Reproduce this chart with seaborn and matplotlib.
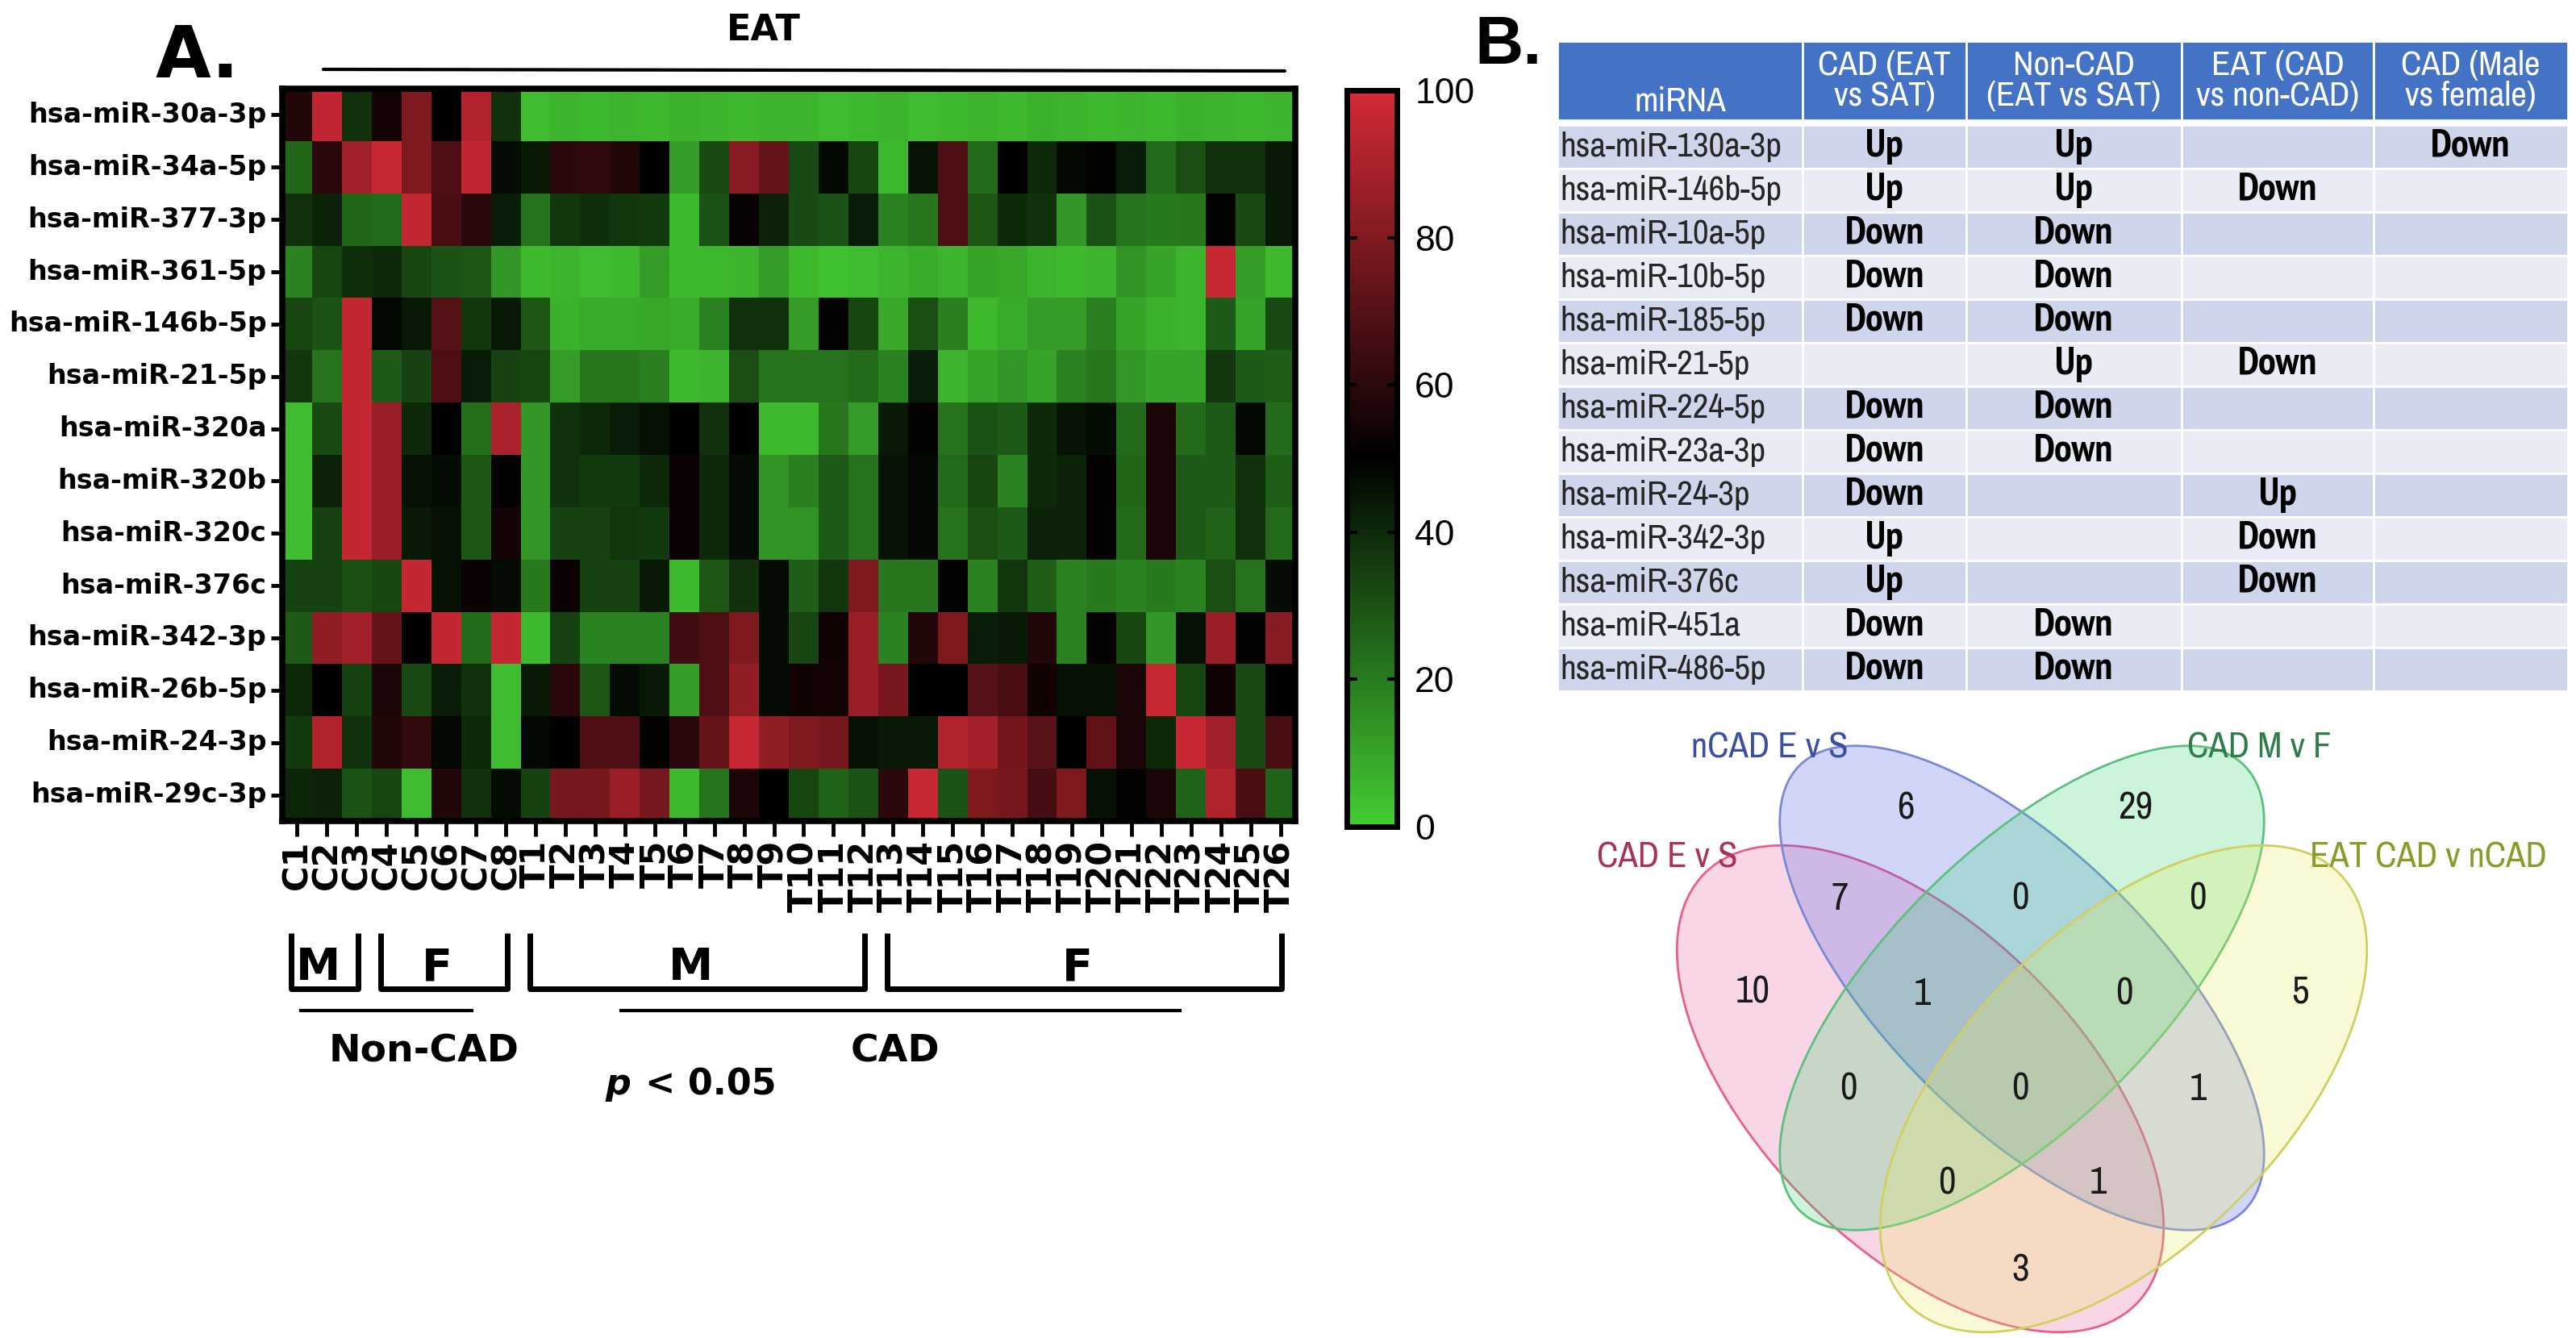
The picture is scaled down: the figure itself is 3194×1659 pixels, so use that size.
import numpy as np
import pandas as pd
import matplotlib
matplotlib.use("Agg")
import matplotlib.pyplot as plt
import matplotlib.transforms as mtransforms
from matplotlib.colors import LinearSegmentedColormap
from matplotlib.patches import Ellipse, Rectangle
from matplotlib import font_manager
from matplotlib.font_manager import FontProperties
import seaborn as sns

W, H = 3194, 1659

# ---------------- A. heatmap data ----------------
mirnas = ['hsa-miR-30a-3p', 'hsa-miR-34a-5p', 'hsa-miR-377-3p', 'hsa-miR-361-5p',
          'hsa-miR-146b-5p', 'hsa-miR-21-5p', 'hsa-miR-320a', 'hsa-miR-320b',
          'hsa-miR-320c', 'hsa-miR-376c', 'hsa-miR-342-3p', 'hsa-miR-26b-5p',
          'hsa-miR-24-3p', 'hsa-miR-29c-3p']

nc_male = ['C1', 'C2', 'C3']
nc_female = ['C4', 'C5', 'C6', 'C7', 'C8']
cad_male = ['T1', 'T2', 'T3', 'T4', 'T5', 'T6', 'T7', 'T8', 'T9', 'T10', 'T11', 'T12']
cad_female = ['T13', 'T14', 'T15', 'T16', 'T17', 'T18', 'T19', 'T20', 'T21', 'T22',
              'T23', 'T24', 'T25', 'T26']
samples = nc_male + nc_female + cad_male + cad_female

# percentile-like expression (0-100)
v_30a_3p = [58, 95, 38, 55, 80, 50, 92, 38, 4, 6, 5, 6, 5, 7, 6, 5, 6,
            6, 4, 5, 6, 4, 5, 6, 5, 7, 6, 5, 6, 5, 7, 6, 5, 6]
v_34a_5p = [25, 60, 88, 97, 80, 68, 95, 47, 44, 60, 61, 58, 50, 12, 32, 82, 74,
            32, 48, 33, 5, 45, 68, 24, 50, 40, 48, 51, 43, 24, 31, 38, 38, 44]
v_377_3p = [38, 42, 25, 24, 96, 67, 60, 43, 22, 37, 39, 37, 36, 5, 30, 52, 42,
            32, 30, 43, 18, 21, 68, 29, 40, 38, 13, 30, 22, 20, 21, 51, 32, 44]
v_361_5p = [18, 33, 39, 40, 33, 30, 29, 13, 5, 6, 4, 5, 12, 5, 5, 6, 12,
            5, 3, 4, 6, 8, 6, 10, 9, 6, 5, 6, 14, 10, 6, 97, 12, 5]
v_146b_5p = [33, 30, 96, 48, 44, 70, 37, 44, 29, 7, 8, 8, 9, 8, 18, 38, 38,
             12, 51, 33, 9, 31, 19, 5, 8, 12, 12, 19, 10, 7, 6, 28, 10, 32]
v_21_5p = [37, 22, 96, 28, 34, 68, 43, 34, 33, 12, 21, 21, 19, 5, 6, 31, 22,
           22, 22, 24, 18, 43, 6, 10, 13, 10, 18, 21, 13, 10, 10, 37, 28, 27]
v_320a = [4, 32, 96, 86, 40, 50, 23, 90, 13, 38, 40, 43, 46, 50, 38, 50, 5,
          5, 21, 12, 44, 51, 22, 30, 28, 40, 45, 47, 24, 56, 24, 28, 48, 24]
v_320b = [4, 42, 96, 86, 46, 47, 29, 51, 13, 38, 36, 36, 40, 53, 40, 47, 14,
          19, 28, 22, 45, 48, 24, 33, 18, 40, 42, 51, 25, 56, 28, 28, 38, 27]
v_320c = [4, 34, 96, 86, 44, 46, 29, 55, 13, 34, 34, 37, 36, 53, 40, 47, 14,
          14, 28, 22, 45, 48, 22, 31, 28, 42, 42, 51, 24, 56, 28, 26, 38, 24]
v_376c = [34, 34, 31, 33, 96, 46, 53, 47, 20, 53, 34, 34, 44, 5, 29, 38, 47,
          27, 37, 80, 21, 21, 51, 18, 37, 27, 18, 20, 18, 20, 18, 31, 22, 47]
v_342_3p = [28, 84, 88, 74, 50, 96, 24, 96, 5, 34, 18, 18, 18, 65, 68, 80, 47,
            33, 54, 86, 18, 58, 80, 43, 44, 58, 18, 51, 33, 13, 46, 86, 51, 82]
v_26b_5p = [40, 50, 34, 57, 32, 43, 38, 4, 44, 60, 29, 47, 44, 12, 68, 84, 47,
            54, 55, 86, 78, 50, 50, 70, 67, 54, 46, 46, 56, 97, 33, 54, 32, 50]
v_24_3p = [36, 92, 38, 58, 62, 48, 40, 4, 48, 50, 68, 68, 51, 60, 74, 97, 84,
           80, 78, 46, 44, 44, 92, 89, 77, 71, 50, 73, 56, 40, 97, 88, 32, 67]
v_29c_3p = [41, 42, 30, 33, 4, 58, 38, 47, 34, 78, 78, 86, 78, 5, 22, 57, 50,
            33, 26, 30, 60, 97, 30, 80, 78, 66, 80, 46, 51, 56, 26, 92, 67, 26]

cbar_ticks = [0, 20, 40, 60, 80, 100]

# ---------------- B. table data ----------------
tab_header = ['miRNA', 'CAD (EAT\nvs SAT)', 'Non-CAD\n(EAT vs SAT)',
              'EAT (CAD\nvs non-CAD)', 'CAD (Male\nvs female)']
tab_mirna = ['hsa-miR-130a-3p', 'hsa-miR-146b-5p', 'hsa-miR-10a-5p', 'hsa-miR-10b-5p',
             'hsa-miR-185-5p', 'hsa-miR-21-5p', 'hsa-miR-224-5p', 'hsa-miR-23a-3p',
             'hsa-miR-24-3p', 'hsa-miR-342-3p', 'hsa-miR-376c', 'hsa-miR-451a',
             'hsa-miR-486-5p']
cad_eat_sat = ['Up', 'Up', 'Down', 'Down', 'Down', '', 'Down', 'Down', 'Down',
               'Up', 'Up', 'Down', 'Down']
ncad_eat_sat = ['Up', 'Up', 'Down', 'Down', 'Down', 'Up', 'Down', 'Down', '',
                '', '', 'Down', 'Down']
eat_cad_ncad = ['', 'Down', '', '', '', 'Down', '', '', 'Up', 'Down', 'Down', '', '']
cad_male_female = ['Down', '', '', '', '', '', '', '', '', '', '', '', '']

# ---------------- Venn data ----------------
venn_sets = ['CAD E v S', 'nCAD E v S', 'CAD M v F', 'EAT CAD v nCAD']
venn_regions = ['A', 'B', 'C', 'D', 'AB', 'BC', 'CD', 'ABC', 'BCD',
                'AC', 'ABCD', 'BD', 'ACD', 'ABD', 'AD']
venn_counts = [10, 6, 29, 5, 7, 0, 0, 1, 0, 0, 0, 1, 0, 1, 3]

# ---------------- fonts ----------------
narrow_all = [f for f in font_manager.fontManager.ttflist if 'narrow' in f.name.lower()
              or 'narrow' in f.fname.lower()]
nar_reg = [f for f in narrow_all if f.weight in (400, 'normal', 'regular') and f.style == 'normal']
nar_bold = [f for f in narrow_all if f.weight in (700, 'bold') and f.style == 'normal']
if nar_reg and nar_bold:
    fp_n = FontProperties(fname=nar_reg[0].fname)
    fp_nb = FontProperties(fname=nar_bold[0].fname)
    k = 1.0
else:
    fp_n = FontProperties(family='Liberation Sans')
    fp_nb = FontProperties(family='Liberation Sans', weight='bold')
    k = 0.84


def nf(size, bold=False):
    p = (fp_nb if bold else fp_n).copy()
    p.set_size(size * k)
    return p


# ---------------- figure ----------------
fig = plt.figure(figsize=(W / 100, H / 100), dpi=100)


def fa(x0, y0, x1, y1):
    # pixel box -> figure fraction rect
    return [x0 / W, 1 - y1 / H, (x1 - x0) / W, (y1 - y0) / H]


ax = fig.add_axes(fa(350, 110, 1606, 1018))
cax = fig.add_axes(fa(1670, 112, 1732, 1025))

heat = pd.DataFrame([v_30a_3p, v_34a_5p, v_377_3p, v_361_5p, v_146b_5p, v_21_5p,
                     v_320a, v_320b, v_320c, v_376c, v_342_3p, v_26b_5p,
                     v_24_3p, v_29c_3p], index=mirnas, columns=samples)

cmap = LinearSegmentedColormap.from_list('gkr', ['#44cc33', '#000000', '#d42a36'])
sns.heatmap(heat, ax=ax, cmap=cmap, vmin=0, vmax=100, cbar_ax=cax,
            xticklabels=True, yticklabels=True, linewidths=0)

ax.set_xlabel('')
ax.set_ylabel('')
ax.set_yticklabels(mirnas, rotation=0, fontsize=24, fontweight='bold', family='DejaVu Sans')
ax.set_xticklabels(samples, rotation=90, fontsize=31, fontweight='bold', family='DejaVu Sans')
ax.tick_params(axis='y', length=10, width=3.5, pad=4)
ax.tick_params(axis='x', length=14, width=3.5, pad=3)
for sp in ax.spines.values():
    sp.set_visible(True)
    sp.set_linewidth(5.5)
    sp.set_color('black')

cbar = ax.collections[0].colorbar
cbar.set_ticks(cbar_ticks)
cbar.outline.set_linewidth(5)
cbar.outline.set_edgecolor('black')
cax.tick_params(direction='in', length=9, width=3, left=True, right=True,
                labelsize=32, pad=16)
for t in cax.get_yticklabels():
    t.set_family('Liberation Sans')

# overlay in pixel coordinates for annotations, table and Venn
ov = fig.add_axes([0, 0, 1, 1])
ov.set_xlim(0, W)
ov.set_ylim(H, 0)
ov.axis('off')
ov.patch.set_alpha(0)

ov.text(245, 71, 'A.', fontsize=64, fontweight='bold', ha='center', va='center')
ov.text(1870, 57, 'B.', fontsize=60, fontweight='bold', ha='center', va='center',
        family='Liberation Sans')

# EAT label over heatmap
ov.text(947, 37, 'EAT', fontsize=32, fontweight='bold', ha='center', va='center')
ov.plot([401, 1593], [86, 88], color='black', lw=3, solid_capstyle='round')

# M/F brackets under the sample labels
btr = mtransforms.blended_transform_factory(ax.transData, ov.transData)
for letter, grp in [('M', nc_male), ('F', nc_female), ('M', cad_male), ('F', cad_female)]:
    s = samples.index(grp[0])
    e = samples.index(grp[-1]) + 1
    x0, x1 = s + 0.3, e - 0.45
    ov.plot([x0, x0, x1, x1], [1157, 1226, 1226, 1157], transform=btr,
            color='black', lw=5, solid_joinstyle='round', solid_capstyle='butt')
    ov.text((s + e) / 2 - 0.3, 1200, letter, transform=btr, fontsize=40,
            ha='center', va='center', fontweight='semibold')

ov.plot([373, 585], [1253, 1253], color='black', lw=3)
ov.plot([770, 1463], [1253, 1253], color='black', lw=3)
ov.text(526, 1304, 'Non-CAD', fontsize=34, fontweight='bold', ha='center', va='center')
ov.text(1110, 1304, 'CAD', fontsize=34, fontweight='bold', ha='center', va='center')
ov.text(782, 1345, 'p', fontsize=32, fontweight='bold', style='italic',
        ha='right', va='center')
ov.text(800, 1345, '< 0.05', fontsize=32, fontweight='bold', ha='left', va='center')

# ---------------- B. table ----------------
col_x = [1931, 2235, 2438, 2705, 2943, 3184]
head_y0, head_y1 = 51, 149
row_y0, row_h = 155, 54
for j in range(5):
    ov.add_patch(Rectangle((col_x[j], head_y0), col_x[j + 1] - col_x[j], head_y1 - head_y0,
                           facecolor='#4472C4', edgecolor='white', lw=2))
    yy = 126 if j == 0 else 100
    ov.text((col_x[j] + col_x[j + 1]) / 2, yy, tab_header[j], color='white',
            fontproperties=nf(31), ha='center', va='center', linespacing=1.0)

tab_vals = [cad_eat_sat, ncad_eat_sat, eat_cad_ncad, cad_male_female]
for i, name in enumerate(tab_mirna):
    y = row_y0 + i * row_h
    band = '#CFD5EA' if i % 2 == 0 else '#E9EBF5'
    for j in range(5):
        ov.add_patch(Rectangle((col_x[j], y), col_x[j + 1] - col_x[j], row_h,
                               facecolor=band, edgecolor='white', lw=2))
    ov.text(col_x[0] + 3, y + row_h / 2, name, fontproperties=nf(31), color='#262626',
            ha='left', va='center')
    for j, vals in enumerate(tab_vals):
        if vals[i]:
            ov.text((col_x[j + 1] + col_x[j + 2]) / 2, y + row_h / 2, vals[i],
                    fontproperties=nf(35, True), ha='center', va='center')

# ---------------- Venn ----------------
venn_shape = [  # center x, center y, semi-major, semi-minor, angle
    (2381, 1350, 378, 198, 45),
    (2507, 1225, 390, 168, 45),
    (2507, 1225, 390, 168, 135),
    (2633, 1350, 378, 198, 135),
]
venn_fill = ['#eb5f9b', '#4b5feb', '#37d773', '#ebeb5f']
venn_edge = ['#e8608a', '#7a88d8', '#5cc080', '#d0d060']
venn_label_color = ['#a8325e', '#3d4fa0', '#2e7d4a', '#8c9a2a']
venn_label_pos = [(2067, 1063), (2194, 927), (2801, 927), (3011, 1063)]
for (cx, cy, a, b, ang), fc, ec in zip(venn_shape, venn_fill, venn_edge):
    ov.add_patch(Ellipse((cx, cy), 2 * a, 2 * b, angle=ang, facecolor=fc, alpha=0.25, lw=0))
    ov.add_patch(Ellipse((cx, cy), 2 * a, 2 * b, angle=ang, facecolor='none',
                         edgecolor=ec, lw=2))
for name, col, (lx, ly) in zip(venn_sets, venn_label_color, venn_label_pos):
    ov.text(lx, ly, name, color=col, fontproperties=nf(32), ha='center', va='center')

region_pos = {
    'A': (2173, 1230), 'B': (2363, 1002), 'C': (2648, 1002), 'D': (2852, 1230),
    'AB': (2281, 1114), 'BC': (2505, 1114), 'CD': (2725, 1114),
    'ABC': (2383, 1232), 'BCD': (2634, 1232),
    'AC': (2292, 1350), 'ABCD': (2505, 1350), 'BD': (2725, 1350),
    'ACD': (2414, 1467), 'ABD': (2601, 1467), 'AD': (2505, 1575),
}
for reg, cnt in zip(venn_regions, venn_counts):
    px, py = region_pos[reg]
    ov.text(px, py, str(cnt), fontproperties=nf(34), ha='center', va='center',
            color='#1a1a1a')

fig.savefig('out.png', dpi=100)
